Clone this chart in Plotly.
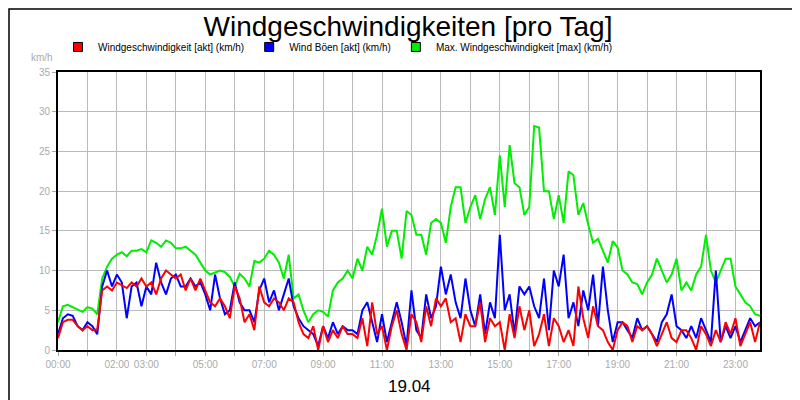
import plotly.graph_objects as go

# 10-minute samples, 00:00 .. 23:50
wind_max = [
    3.5, 5.5, 5.7, 5.4, 5.2, 4.8,  5.4, 5.2, 4.5, 9.0, 10.5, 11.5,
    12.0, 12.3, 11.8, 12.5, 12.5, 12.7,  12.3, 13.8, 13.5, 13.0, 13.8, 13.5,
    12.8, 12.8, 13.0, 12.5, 12.0, 11.0,  10.0, 9.5, 9.8, 10.0, 9.8, 9.2,
    8.0, 9.6, 9.0, 8.0, 11.2, 11.0,  11.5, 12.5, 12.0, 11.0, 9.0, 12.0,
    6.5, 7.0, 5.0, 3.5, 4.5, 5.0,  4.8, 4.2, 7.5, 8.5, 9.0, 10.0,
    9.0, 11.5, 10.0, 13.0, 12.0, 14.5,  17.8, 13.0, 15.0, 15.0, 11.5, 17.5,
    17.0, 14.5, 14.5, 12.0, 16.0, 16.5,  16.0, 13.5, 18.0, 20.5, 20.5, 16.0,
    18.0, 19.5, 16.5, 19.0, 20.5, 17.0,  24.5, 18.0, 25.8, 21.0, 20.5, 17.0,
    18.0, 28.2, 28.0, 20.0, 20.0, 16.5,  19.5, 16.0, 22.5, 22.0, 17.0, 18.5,
    15.8, 13.5, 14.0, 12.5, 11.0, 13.7,  12.9, 10.0, 9.5, 8.5, 8.3, 7.0,
    8.5, 9.5, 11.5, 10.0, 8.5, 9.5,  11.5, 7.5, 8.5, 7.5, 9.5, 10.5,
    14.5, 10.0, 8.5, 10.0, 11.5, 11.5,  8.0, 7.0, 6.0, 5.5, 4.5, 4.3,
]
wind_akt = [
    1.5, 3.5, 3.8, 3.8, 3.0, 2.5,  3.0, 2.5, 2.6, 7.5, 8.0, 7.5,
    8.5, 8.2, 7.8, 8.5, 8.0, 9.0,  8.0, 8.5, 7.0, 9.0, 10.0, 9.5,
    9.0, 9.5, 7.5, 9.0, 7.5, 9.0,  7.5, 6.0, 5.5, 6.5, 5.5, 4.0,
    8.0, 6.5, 3.5, 4.5, 2.5, 8.0,  6.0, 5.5, 6.5, 6.0, 5.0, 6.5,
    6.0, 3.5, 2.0, 1.5, 3.0, 0.0,  3.0, 1.0, 2.5, 1.5, 3.0, 2.0,
    2.0, 1.5, 4.0, 0.5, 6.0, 2.0,  3.0, 0.0, 3.0, 5.0, 2.0, 0.0,
    4.5, 3.5, 1.0, 5.5, 3.0, 6.5,  5.5, 6.5, 3.5, 4.0, 1.0, 4.5,
    3.0, 3.0, 6.0, 1.0, 4.0, 3.0,  3.5, 0.0, 4.5, 1.5, 5.5, 2.5,
    5.0, 0.5, 2.0, 4.5, 0.5, 4.0,  3.0, 1.0, 2.5, 0.5, 8.0, 4.0,
    1.5, 5.5, 3.0, 2.5, 1.0, 0.0,  2.5, 3.5, 3.0, 1.0, 3.0, 2.5,
    3.0, 2.0, 0.5, 2.0, 3.5, 1.5,  1.0, 2.5, 2.5, 1.5, 0.0, 3.0,
    2.0, 0.5, 2.5, 1.0, 3.5, 2.0,  4.0, 0.5, 2.0, 3.5, 1.0, 3.5,
]
wind_boeen = [
    2.0, 4.0, 4.5, 4.3, 3.0, 2.5,  3.5, 3.0, 2.0, 8.0, 10.0, 8.0,
    9.5, 8.5, 4.0, 8.0, 8.5, 5.5,  8.0, 7.0, 11.0, 8.5, 7.0, 9.0,
    9.5, 8.0, 8.0, 9.0, 8.0, 8.5,  7.0, 5.0, 9.5, 6.5, 4.5, 5.0,
    8.5, 6.0, 5.0, 5.0, 3.5, 7.5,  9.0, 6.0, 7.5, 5.0, 7.0, 9.0,
    5.5, 4.0, 3.0, 2.5, 2.0, 0.5,  3.0, 1.5, 3.5, 2.0, 3.0, 2.5,
    2.5, 2.0, 5.0, 6.0, 3.5, 1.0,  4.5, 1.0, 3.5, 6.0, 3.5, 0.5,
    7.5, 2.5, 1.5, 7.0, 4.0, 5.5,  10.5, 7.0, 9.5, 6.0, 4.0, 9.0,
    5.0, 3.0, 7.0, 2.0, 6.0, 4.0,  14.5, 5.0, 7.0, 2.0, 8.0, 7.0,
    8.0, 5.5, 4.0, 9.0, 2.5, 10.0,  8.0, 12.0, 4.0, 6.0, 3.0, 7.5,
    5.0, 9.5, 3.0, 10.5, 5.0, 1.0,  3.5, 3.5, 2.5, 1.5, 4.0, 2.5,
    3.0, 2.0, 1.0, 3.5, 4.5, 7.0,  3.0, 2.5, 1.5, 3.0, 1.5, 4.0,
    2.5, 1.0, 10.0, 1.0, 3.0, 1.5,  3.0, 1.0, 2.5, 4.0, 3.0, 3.5,
]
hours = [i / 6 for i in range(len(wind_akt))]
tick_labels = {0: "00:00", 2: "02:00", 3: "03:00", 5: "05:00", 7: "07:00", 9: "09:00",
               11: "11:00", 13: "13:00", 15: "15:00", 17: "17:00", 19: "19:00",
               21: "21:00", 23: "23:00"}

fig = go.Figure()
series = [
    ("Max. Windgeschwindigkeit [max] (km/h)", wind_max, "#00ee00"),
    ("Wind Böen [akt] (km/h)", wind_boeen, "#0000ff"),
    ("Windgeschwindigkeit [akt] (km/h)", wind_akt, "#ff0000"),
]
for name, vals, color in series:
    fig.add_trace(go.Scatter(x=hours, y=vals, mode="lines", line=dict(color=color, width=2),
                             showlegend=False, hoverinfo="skip"))
# legend entries with square swatches
for name, vals, color in reversed(series):
    fig.add_trace(go.Scatter(x=[None], y=[None], mode="markers", name=name,
                             marker=dict(symbol="square", size=9, color=color,
                                         line=dict(color="black", width=1))))

fig.update_layout(
    width=800, height=400,
    margin=dict(l=50, r=48, t=64, b=58, autoexpand=False),
    paper_bgcolor="white", plot_bgcolor="white",
    font=dict(family="Liberation Sans, Arial", color="black"),
    title=dict(text="Windgeschwindigkeiten [pro Tag]", x=0.5, xanchor="center",
               y=0.955, yanchor="middle", font=dict(size=28, color="black")),
    legend=dict(orientation="h", x=0.0, y=1.09, xanchor="left", yanchor="middle",
                font=dict(size=10, color="black"), itemwidth=30,
                tracegroupgap=0, bgcolor="rgba(0,0,0,0)"),
    xaxis=dict(range=[0, 143 / 6], tickvals=list(range(24)),
               ticktext=[tick_labels.get(h, "") for h in range(24)],
               tickangle=0, automargin=False,
               showgrid=True, gridcolor="#bbbbbb", gridwidth=1,
               tickfont=dict(size=10, color="#aaaaaa"), ticks="outside", ticklen=4,
               tickcolor="#aaaaaa", showline=True, linecolor="black", linewidth=2,
               mirror=True, zeroline=False),
    yaxis=dict(range=[0, 35], dtick=5, showgrid=True, gridcolor="#bbbbbb", automargin=False,
               tickfont=dict(size=10, color="#aaaaaa"), ticks="outside", ticklen=4,
               tickcolor="#aaaaaa", showline=True, linecolor="black", linewidth=2,
               mirror=True, zeroline=False),
    shapes=[dict(type="rect", xref="paper", yref="paper", x0=-49 / 702, x1=749 / 702,
                 y0=-57 / 278, y1=341 / 278, line=dict(color="black", width=1.5))],
    annotations=[
        dict(text="km/h", xref="paper", yref="paper", x=-3 / 702, y=1.08, showarrow=False,
             xanchor="right", font=dict(size=10, color="#aaaaaa")),
        dict(text="19.04", xref="paper", yref="paper", x=0.5, y=-36 / 278, showarrow=False,
             yanchor="middle", font=dict(size=17, color="black")),
    ],
)

fig.write_html("out.html")
